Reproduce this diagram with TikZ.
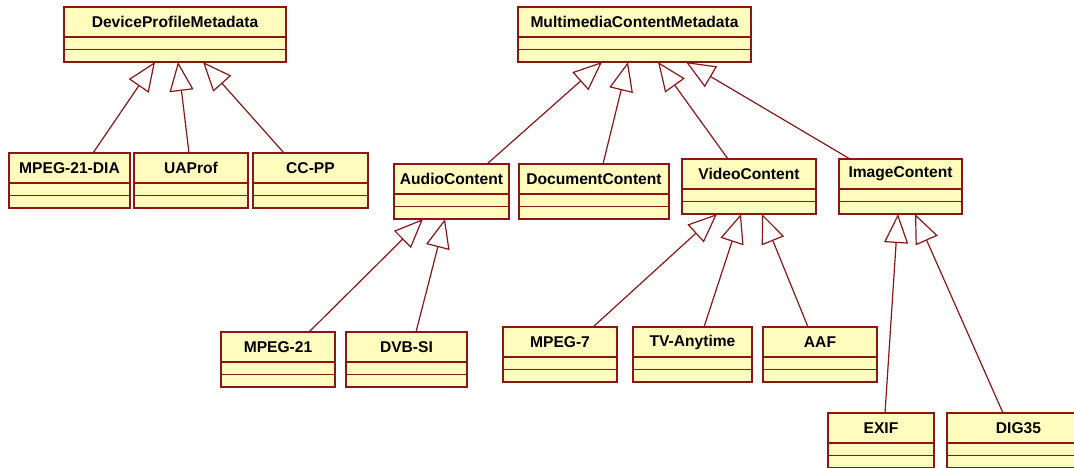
\documentclass[tikz,border=0pt]{standalone}
\usepackage{fontspec}
\setmainfont{Liberation Sans}
\usetikzlibrary{arrows.meta}
\definecolor{umlline}{RGB}{140,22,22}
\definecolor{umlfill}{RGB}{255,252,190}
\tikzset{
  cls/.style={draw=umlline, fill=umlfill, line width=1.2pt, rectangle, inner sep=0pt, outer sep=0pt},
  clsline/.style={draw=umlline, line width=1.2pt},
  clstext/.style={font=\fontsize{15.6}{18}\selectfont\bfseries, inner sep=0pt, text=black},
  gen/.style={draw=umlline, line width=1.2pt, -{Triangle[length=29pt,width=24pt,fill=white,line width=1.2pt]}}
}
\newcommand\umlcls[5]{%
  \node[cls, minimum width={(#4-#2)*1pt}, minimum height=55pt] (#1) at ({(#2+#4)/2},{#3+27.5}) {};
  \draw[clsline] ([yshift=-30pt]#1.north west) -- ([yshift=-30pt]#1.north east);
  \draw[clsline] ([yshift=-42.5pt]#1.north west) -- ([yshift=-42.5pt]#1.north east);
  \node[clstext] (#1t) at ([yshift=-15pt]#1.north) {#5};
}
\begin{document}
\begin{tikzpicture}[x=1pt, y=-1pt]
\useasboundingbox (0,0) rectangle (1074,467);
\clip (0,0) rectangle (1074,467);
\umlcls{dpm}{64}{7}{286}{DeviceProfileMetadata}
\umlcls{mcm}{518}{7}{751}{MultimediaContentMetadata}
\umlcls{dia}{9}{153}{130}{MPEG-21-DIA}
\umlcls{uaprof}{134}{153}{248}{UAProf}
\umlcls{ccpp}{253}{153}{368}{CC-PP}
\umlcls{audio}{394}{164}{509}{AudioContent}
\umlcls{doc}{519}{164}{669}{DocumentContent}
\umlcls{video}{682}{159}{816}{VideoContent}
\umlcls{image}{839}{159}{962}{ImageContent}
\umlcls{mpeg21}{221}{332}{335}{MPEG-21}
\umlcls{dvb}{346}{332}{467}{DVB-SI}
\umlcls{mpeg7}{503}{327}{617}{MPEG-7}
\umlcls{tva}{633}{327}{752}{TV-Anytime}
\umlcls{aaf}{763}{327}{877}{AAF}
\umlcls{exif}{828}{413}{934}{EXIF}
\umlcls{dig}{947}{413}{1090}{DIG35}
% generalizations
\draw[gen] ([xshift=84pt]dia.north west) -- ([xshift=91pt]dpm.south west);
\draw[gen] ([xshift=55pt]uaprof.north west) -- ([xshift=114pt]dpm.south west);
\draw[gen] ([xshift=31pt]ccpp.north west) -- ([xshift=139pt]dpm.south west);
\draw[gen] ([xshift=93pt]audio.north west) -- ([xshift=84pt]mcm.south west);
\draw[gen] ([xshift=84pt]doc.north west) -- ([xshift=110pt]mcm.south west);
\draw[gen] ([xshift=46pt]video.north west) -- ([xshift=140pt]mcm.south west);
\draw[gen] ([xshift=11pt]image.north west) -- ([xshift=168pt]mcm.south west);
\draw[gen] ([xshift=88pt]mpeg21.north west) -- ([xshift=29pt]audio.south west);
\draw[gen] ([xshift=70pt]dvb.north west) -- ([xshift=51pt]audio.south west);
\draw[gen] ([xshift=90pt]mpeg7.north west) -- ([xshift=35pt]video.south west);
\draw[gen] ([xshift=71pt]tva.north west) -- ([xshift=59pt]video.south west);
\draw[gen] ([xshift=45pt]aaf.north west) -- ([xshift=80pt]video.south west);
\draw[gen] ([xshift=57pt]exif.north west) -- ([xshift=59pt]image.south west);
\draw[gen] ([xshift=56pt]dig.north west) -- ([xshift=76pt]image.south west);
\end{tikzpicture}
\end{document}
